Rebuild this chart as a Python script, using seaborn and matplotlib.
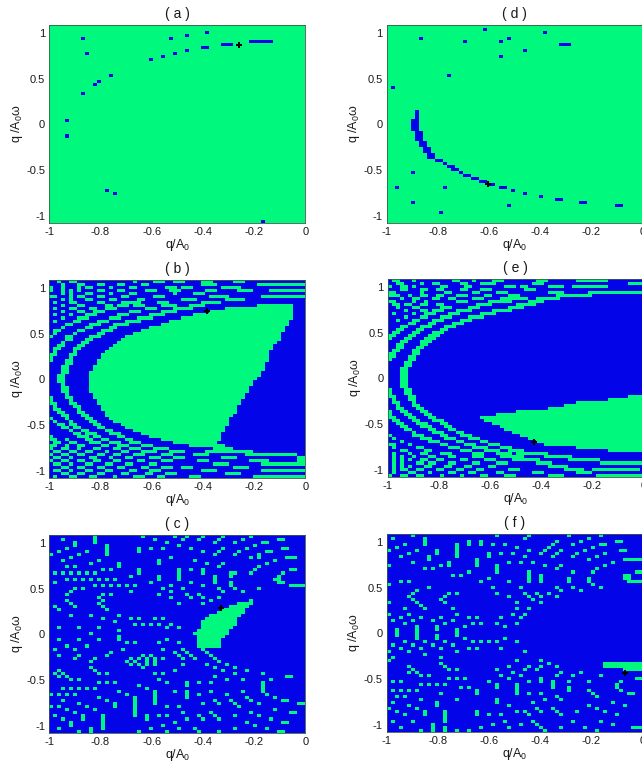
import numpy as np
import matplotlib
matplotlib.use("Agg")
import matplotlib.pyplot as plt
from matplotlib.colors import ListedColormap
import seaborn as sns

# cells: {row from top: "columns"}, 65 rows x 64 columns
a_blue = {2: "39", 3: "34", 4: "8 30", 5: "50-55", 6: "43-45", 7: "38-39", 8: "34", 9: "9 31",
          10: "28", 11: "25", 16: "15", 18: "12", 19: "11", 22: "8", 31: "4", 36: "4",
          54: "14", 55: "16", 64: "53"}

d_blue = {1: "24", 2: "39", 4: "8 30", 5: "19 28", 6: "43-45", 8: "34", 10: "28", 16: "15", 20: "1",
          28: "7", 29: "7", 30: "7", 31: "6-7", 32: "6-7", 33: "6-7", 34: "6-7", 35: "7-8", 36: "7-8",
          37: "7-8", 38: "8-9", 39: "8-9", 40: "9-10", 41: "9-10", 42: "10-11", 43: "10-11",
          44: "12-13", 45: "14", 46: "15-16", 47: "16-17", 48: "6 18", 49: "19-20", 50: "21-22",
          51: "23-24", 52: "25-26", 53: "2 14 28-29", 54: "31", 55: "34", 56: "38", 57: "42-43",
          58: "6 48-49", 59: "30 57-58", 61: "13"}

b_green = {0: "2 5-6 21 26-28 31-33 38-40 46-48",
           1: "3 7-8 12-13 17-18 23-24 38-41 52-63",
           2: "0 3 7 9-10 15 20-21 29-31 33-35 43-47",
           3: "0 3 5 7 12-13 17-18 24-26 30-32 39-41 47-50 55-63",
           4: "3 5 9-10 15 20-21 31 36-38",
           5: "0-1 5 7-8 12-13 18-19 26-28 40-44 53-63",
           6: "3 5 9-10 15-16 22-23 33-36 44-48",
           7: "1 5-6 12-13 18-22 27-29 38-42",
           8: "3 7-8 14-15 17-19 21-23 28-31 35-38 52-60",
           9: "1 5-6 10-11 14-16 24-26 31-35 44-60",
           10: "3 7-8 11-13 20-22 28-31 40-60",
           11: "1 5 9-11 17-19 25-28 36-60",
           12: "3 7-9 15-17 22-25 33-60",
           13: "1 6-7 12-14 19-22 30-59",
           14: "4-5 10-12 16-19 28-59",
           15: "3 9-10 15-16 25-58",
           16: "1-2 7-8 13-15 23-58",
           17: "1 6 12-13 21-57",
           18: "0 4-5 10-12 19-57",
           19: "4-5 9-10 18-57",
           20: "3 8-9 17-56",
           21: "2-3 7-8 16-55",
           22: "1-2 6-7 15-55",
           23: "1 6 14-54",
           24: "0-1 5-6 13-54",
           25: "0 5 13-54",
           26: "0 4-5 12-54",
           27: "4-5 12-53",
           28: "3-4 11-53",
           29: "3-4 11-53",
           30: "3-4 10-52",
           31: "2-3 10-52",
           32: "2-3 10-51",
           33: "2-3 10-50",
           34: "3 10-50",
           35: "3-4 10-49",
           36: "3-4 10-49",
           37: "4 11-48",
           38: "0 4-5 11-48",
           39: "0 5 12-47",
           40: "0-1 5-6 12-47",
           41: "1 6-7 13-46",
           42: "1-2 7 13-46",
           43: "2-3 7-8 14-46",
           44: "3-4 8-9 14-45",
           45: "0 4 9-10 15-44",
           46: "1 5 10-11 16-44",
           47: "2-3 5-6 11-12 18-44",
           48: "3-4 6-7 12-13 19-43",
           49: "5 8-9 14-15 21-43",
           50: "6-7 9-11 15-17 23-42",
           51: "0 7-9 11-12 17-18 25-42",
           52: "0-1 4 9-10 13-14 19-20 28-42",
           53: "1-2 5-6 10-12 15-17 20-22 31-41",
           54: "0-1 4 7-8 13-14 17-19 23-25 35-43",
           55: "0 3-4 7 11-12 16-17 20-22 26-29 41-45",
           56: "1-2 5-6 9-10 14 18-19 23-26 30-33 39-50",
           57: "0 3-4 7-8 12-13 16-17 21-23 28-30 36-39 49-61",
           58: "1-2 5 10-11 15 19-20 25-27 31-33 43-46 62-63",
           59: "0 3-4 7-8 11-12 16-17 22-23 28-30 37-39 50-54 62-63",
           60: "1-2 5 9-10 14-15 19-20 25-26 41-44 53-63",
           61: "3-4 7-8 12-13 17-18 23-24 28-30 33-35 46-49",
           62: "1-2 5 9-10 14-15 20-21 25-27 38-41 53-63",
           63: "3-4 7-8 12-13 18-19 24-25 29-31 44-47",
           64: "1 5-6 10-11 16 21-23 27-28 35-37 51-63"}

c_green = {0: "11 23 31 34 38 43 50", 1: "3 11 26 33 37 42 48 57-58", 2: "6 11 29 41 46 53-54",
           3: "6 14 32 51", 4: "4 14 22 25 28 35 43 49 58-59", 5: "2 9 14 22 38 42 47 54-55",
           6: "0 7 14 41 46 52", 7: "5 30 50 52 59-61", 8: "3 12 27 36 56", 9: "10 17 27 39 43 54",
           10: "4 6 17 42 52", 11: "13 15 22 32 35 38 51 60-61", 12: "1 3 5 7 9 11 22 32 38 45-46 50 58",
           13: "20 27 32 41 45 57", 14: "4 6 8 10 12 14 16 27 32 41 56-57", 15: "1 25 35 41 45 57-58",
           16: "11 13 15 17 19 21 30 38 45 60-63", 17: "6 8 28 33 42 46 52", 18: "5 20 30 43 48",
           19: "4 13 15 27 34 37", 20: "12 30 35 38 42", 21: "4 13 40 50", 22: "5 12 32 38 47-50",
           23: "1 6 13 45-49", 24: "2 14 43-48", 25: "42-48", 26: "5 10 17 40-47",
           27: "13 20 22 26 28 39-46", 28: "16 38-46", 29: "21 23 25 27 30 38-46",
           30: "2 7 12 29 32 38-45", 31: "17 37-44", 32: "10 36-44", 33: "17 37-43",
           34: "2 7 12 17 29 37-42", 35: "19 21 27 32 37-42", 36: "4 9 37-42", 37: "1 6 18 28 33 38",
           38: "15 31 34 39", 39: "2 7 14 23 25 32 35 40", 40: "6 11 20 22 24 26 28 33 36 41",
           41: "10 19 21 24 26 42", 42: "20 22 24 26 33 39 44", 43: "10 23 41 46", 44: "2 11 31 43 49",
           45: "1 3 12 14 26 28 46 53", 46: "2 4 41 59-60", 47: "5 7 27 44 48 55",
           48: "12 14 16 29 34 37 40 53", 49: "22 34 53", 50: "3 5 7 9 11 24 53",
           51: "17 26 31 34 40 48 53", 52: "0 2 4 6 19 26 34 37 44 54", 53: "12 21 26 34 49 56",
           54: "3 14 21 26 41 45 50 58-59", 55: "7 16 21 26 38 42 46 52 62-63", 56: "0 2 9 16 21 29 32 47",
           57: "4 11 21 56", 58: "6 21 33 40 50 60-61", 59: "1 8 13 21 24 27 29 37 41 46 52",
           60: "3 8 13 24 34 38 42 55", 61: "5 13 31 49 58-59", 62: "5 13 28 51",
           63: "2 10 13 25 32 36 46 54", 64: "7 10 22 29 37 42 57-58"}

e_green = {0: "1-2 6 16-17 21 26-28 37-39 47-54", 1: "2-3 8 11-12 18-19 23-26 36-38 60-63",
           2: "0 3-4 6 13-14 19-20 29-31 33-34 40-43 46-54", 3: "3-4 8-9 12-13 18-19 23-25 34-36",
           4: "0-1 8 14-15 21-22 27-29 40-43 50-63", 5: "0-2 5 8-9 12-13 17-19 24-25 30-32 42-50",
           6: "3 6-7 11-12 15-16 21-23 28-30 31-34 37-42", 7: "0-1 6 9 17-19 25-30 35-38",
           8: "1-2 4-5 8-9 12-13 22-25 32-36", 9: "2 6-7 13-15 20-22 30-33",
           10: "4 8-9 11-13 17-20 26-30", 11: "1 6 9-11 15-17 23-26", 12: "4 8-9 13-15 20-23",
           13: "2 6-7 11-13 18-20", 14: "5-6 10-11 16-18", 15: "3-4 8-10 14-16", 16: "2-3 7-8 13-14",
           17: "1-2 6-7 11-13", 18: "0-1 5-6 10-12", 19: "0 4-5 9-11", 20: "3-4 8-10", 21: "2-3 8-9",
           22: "2-3 7-8", 23: "1-2 6-7", 24: "0-1 6-7", 25: "0-1 5-6", 26: "0 5-6", 27: "4-5", 28: "4-5",
           29: "3-4", 30: "3-4", 31: "3-4", 32: "3-4", 33: "3-4", 34: "3-4", 35: "3-4", 36: "0 4-5",
           37: "0 4-5", 38: "0-1 5-6 60-63", 39: "1 5-6 55-63", 40: "1-2 6 47-63", 41: "2 6-7 44-63",
           42: "2-3 7-8 40-63", 43: "0 3-4 8-9 32-63", 44: "0 4-5 9-10 27-63", 45: "0-1 5-6 10-11 23-63",
           46: "1-2 6-7 11-13 24-63", 47: "2-3 7-9 13-14 26-63", 48: "3-4 8-10 14-15 28-63",
           49: "4-5 10-11 15-16 29-63", 50: "6 11-13 17-18 31-63", 51: "0 6-8 13-14 18-20 33-63",
           52: "1 8-10 14-16 20-22 35-63", 53: "3 10-12 17-18 23-24 37-63", 54: "0-1 5 13-14 19-21 25-27 39-63",
           55: "1 7-8 15-17 21-24 28-30 47-63", 56: "3-4 9-10 18-20 24-27 30-33 55-63",
           57: "1 5 8-9 13-15 21-23 27-30 32-39", 58: "1 3 6 10-11 15-16 21-23 28-33 39-45",
           59: "1 3 5 8-9 12-13 18-19 24-26 31-37 45-52", 60: "1 3 7-8 10-11 15-16 21-22 27-29 37-40 53-63",
           61: "1 3 5 9-10 14-15 19-20 25-26 40-44", 62: "1 3-4 7-8 12-13 17-18 22-23 30-32 44-48 51-62",
           63: "1 5-6 10 15-16 20-21 27-28 36-38 47-50", 64: "0 3-4 7-8 13 18 23-24 29-31 40-43 52-63"}

f_green = {0: "6 27 35 45 53", 1: "1 9 34 50", 2: "9 20 23 42 48 57-58", 3: "4 9 17 20 23 26 29 41 46 53-54",
           4: "2 17 32 40 51", 5: "0 7 12 17 35 39 43 49 58-59", 6: "5 12 17 25 28 31 38 42 47 54",
           7: "3 10 17 25 34 41 46 52", 8: "10 22 50 59-63", 9: "6 15 22 30 33 36 56",
           10: "0 13 15 22 27 39 43 54", 11: "9 11 27 42 52", 12: "20 27 35 46 51 62-63",
           13: "16 18 35 38 59-60", 14: "25 35 38 45 50 59-60", 15: "3 5 23 30 35 38 45 50 60-63",
           16: "0 51", 17: "10 26 33 42 46 53", 18: "7 43 48", 19: "6 15 17 27 34 37 40",
           20: "5 14 30 35 38 42", 21: "6 13 36", 22: "0 7 14 32 38", 23: "8", 24: "4 9 16 32 35",
           26: "0 5 17 31 34", 27: "3 8 13 20 22 28 33", 28: "1 6 11 16", 29: "4 14 21 23 27 32",
           30: "7 12 19 29", 31: "2 7 12 17", 32: "2 7 17", 33: "2 7 12 17", 34: "7 12 19 29",
           35: "4 9 14 21 23 25 27 32", 36: "1 6 11 16", 37: "3 8 13 20 22 28", 38: "0 5 17 34", 39: "9",
           40: "1 13", 41: "0 32 38", 42: "13 40 54-63", 43: "5 14 30 35 38 42 54-63",
           44: "6 15 17 27 34 37 59-63", 45: "5 7 31 43 48", 46: "8 10 28 33 42 46 53",
           47: "15 17 19 30 38 62-63", 48: "1 3 25 35 38 41 45 50 58", 49: "8 10 12 14 27 32 41 57",
           50: "18 20 27 32 41 45 57", 51: "1 3 5 7 22 32 45 50 58", 52: "13 22 32 35 38 51 60-61",
           53: "2 4 42 52", 54: "8 17 27 39 43", 55: "1 12 27 36 56", 56: "5 12 30 50 59",
           57: "0 7 37 41 52", 58: "2 9 14 22 32 34 38 42 47 54", 59: "4 9 14 22 25 28 35 43 57",
           60: "14", 61: "1 6 14 29 36 46 53", 62: "11 26 33 37 56", 63: "3 11 14 23 30 38 43 49 61-63",
           64: "8 11 14 17 20 39 52"}

panel_names = ["( a )", "( b )", "( c )", "( d )", "( e )", "( f )"]
marker_x = [-0.26, -0.383, -0.33, -0.605, -0.427, -0.069]
marker_y = [0.868, 0.745, 0.29, -0.656, -0.70, -0.43]
x_ticks = [-1, -0.8, -0.6, -0.4, -0.2, 0]
x_labels = ["-1", "-0.8", "-0.6", "-0.4", "-0.2", "0"]
y_ticks = [1, 0.5, 0, -0.5, -1]
y_labels = ["1", "0.5", "0", "-0.5", "-1"]

Y_TOP, Y_BOTTOM = 1.09, -1.078
N_ROWS, N_COLS = 65, 64


def make_grid(rows, base=0):
    grid = np.full((N_ROWS, N_COLS), base)
    for r, txt in rows.items():
        for run in txt.split():
            lo, _, hi = run.partition("-")
            grid[r, int(lo):int(hi or lo) + 1] = 1 - base
    return grid


def to_col(x):
    return (np.asarray(x) + 1) * N_COLS


def to_row(y):
    return (Y_TOP - np.asarray(y)) / (Y_TOP - Y_BOTTOM) * N_ROWS


sns.set_style("white")
plt.rcParams["font.family"] = ["Liberation Sans", "DejaVu Sans"]
plt.rcParams["mathtext.fontset"] = "custom"
plt.rcParams["mathtext.rm"] = "Liberation Sans"
plt.rcParams["mathtext.it"] = "Liberation Sans:italic"
plt.rcParams["mathtext.default"] = "regular"

W, H = 642, 767
fig = plt.figure(figsize=(W / 100, H / 100), dpi=100)

# left, top, bottom in pixels for every panel
boxes = [(49.3, 25, 222.7), (49.3, 280, 477.7), (49.3, 535, 732.7),
         (386.7, 25, 222.7), (387.7, 279, 476.7), (386.7, 534, 731.7)]
grids = [make_grid(a_blue, 1), make_grid(b_green), make_grid(c_green),
         make_grid(d_blue, 1), make_grid(e_green), make_grid(f_green)]
cmap = ListedColormap(["#0404e8", "#00f97c"])

for i, (left, top, bottom) in enumerate(boxes):
    ax = fig.add_axes([left / W, 1 - bottom / H, 256 / W, (bottom - top) / H])
    sns.heatmap(grids[i], ax=ax, cmap=cmap, vmin=0, vmax=1, cbar=False,
                xticklabels=False, yticklabels=False)
    ax.plot(to_col(marker_x[i]), to_row(marker_y[i]), marker="P", color="black",
            markersize=5, markeredgewidth=0)
    ax.set_xticks(to_col(x_ticks))
    ax.set_xticklabels(x_labels, fontsize=8, color="#1a1a1a")
    ax.set_yticks(to_row(y_ticks))
    ax.set_yticklabels(y_labels, fontsize=8, rotation=0, color="#1a1a1a")
    ax.tick_params(length=0, pad=3)
    for spine in ax.spines.values():
        spine.set_visible(True)
        spine.set_linewidth(0.6)
        spine.set_color("#3c5a4a")
    ax.set_xlabel("q/A$_0$", fontsize=9, labelpad=0, color="#1a1a1a")
    ax.set_ylabel("q /A$_0$$\\omega$", fontsize=9, labelpad=1, color="#1a1a1a")
    ax.set_title(panel_names[i], fontsize=10, pad=5, color="#1a1a1a")

fig.savefig("out.png", dpi=100)
